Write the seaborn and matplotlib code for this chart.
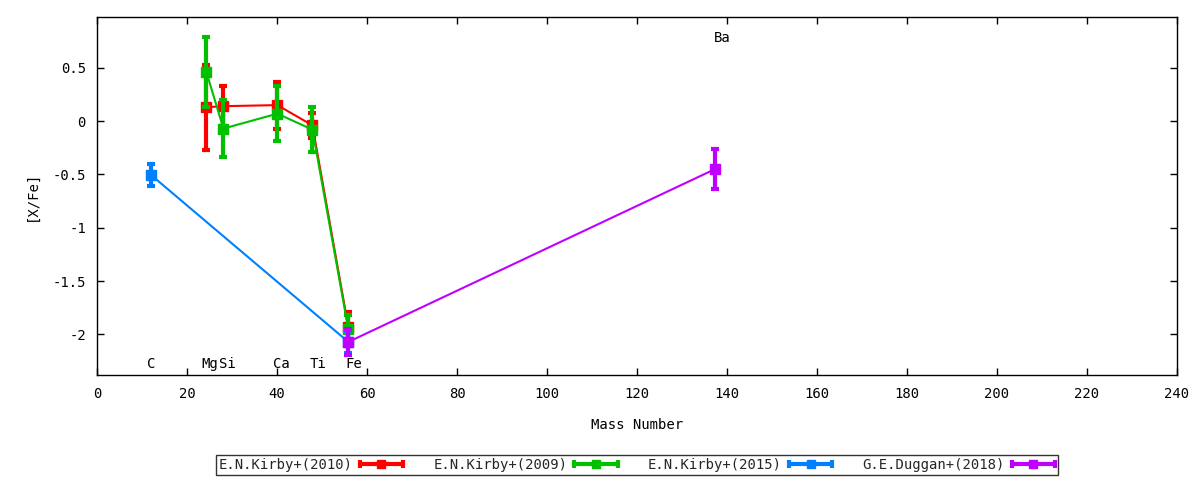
import numpy as np
import pandas as pd
import matplotlib
matplotlib.use("Agg")
import matplotlib.pyplot as plt
import seaborn as sns
from matplotlib.legend_handler import HandlerBase
from matplotlib.lines import Line2D

# ---- data ----
kirby2010_mass = [24.31, 28.09, 40.08, 47.87, 55.85]
kirby2010_val = [0.13, 0.14, 0.15, -0.04, -1.93]
kirby2010_err = [0.40, 0.19, 0.22, 0.12, 0.14]

kirby2009_mass = [24.31, 28.09, 40.08, 47.87, 55.85]
kirby2009_val = [0.46, -0.07, 0.07, -0.08, -1.95]
kirby2009_err = [0.33, 0.27, 0.26, 0.21, 0.13]

kirby2015_mass = [12.01, 55.85]
kirby2015_val = [-0.505, -2.07]
kirby2015_err = [0.10, 0.10]

duggan2018_mass = [55.85, 137.33]
duggan2018_val = [-2.07, -0.45]
duggan2018_err = [0.12, 0.19]

series_names = ["E.N.Kirby+(2010)", "E.N.Kirby+(2009)", "E.N.Kirby+(2015)", "G.E.Duggan+(2018)"]
series_colors = ["#ff0000", "#00c000", "#0080ff", "#c000ff"]

element_names = ["C", "Mg", "Si", "Ca", "Ti", "Fe", "Ba"]
element_x = [12, 25, 29, 41, 49, 57, 139]
element_y = [-2.28, -2.28, -2.28, -2.28, -2.28, -2.28, 0.78]

x_ticks = list(range(0, 241, 20))
y_ticks = [-2, -1.5, -1, -0.5, 0, 0.5]
y_tick_labels = ["-2", "-1.5", "-1", "-0.5", "0", "0.5"]

series = [
    (kirby2010_mass, kirby2010_val, kirby2010_err),
    (kirby2009_mass, kirby2009_val, kirby2009_err),
    (kirby2015_mass, kirby2015_val, kirby2015_err),
    (duggan2018_mass, duggan2018_val, duggan2018_err),
]

frames = []
for name, (m, v, e) in zip(series_names, series):
    frames.append(pd.DataFrame({"mass": m, "val": v, "err": e, "series": name}))
df = pd.concat(frames, ignore_index=True)

# ---- style ----
sns.set_theme(style="white")
plt.rcParams["font.family"] = ["DejaVu Sans Mono", "DejaVu Sans"]
FS = 10

fig = plt.figure(figsize=(12, 4.8), dpi=100)
ax = fig.add_axes([97 / 1200, 1 - 375 / 480, 1080 / 1200, 358 / 480])

palette = dict(zip(series_names, series_colors))
for i, name in enumerate(series_names):
    sub = df[df["series"] == name]
    sns.lineplot(data=sub, x="mass", y="val", color=palette[name], lw=1.5,
                 ax=ax, legend=False, sort=False, estimator=None, zorder=2 + i)
    ax.errorbar(sub["mass"], sub["val"], yerr=sub["err"], fmt="s",
                color=palette[name], ms=7, elinewidth=3, capsize=3, capthick=3,
                zorder=2.5 + i)

for t, x, y in zip(element_names, element_x, element_y):
    ax.text(x, y, t, ha="center", va="center", fontsize=FS, color="black")

ax.set_xlim(0, 240)
ax.set_ylim(-2.38, 0.976)
ax.set_xticks(x_ticks)
ax.set_xticklabels([str(t) for t in x_ticks])
ax.set_yticks(y_ticks)
ax.set_yticklabels(y_tick_labels)
ax.tick_params(axis="both", which="both", direction="in", length=5, width=1,
               top=True, right=True, bottom=True, left=True, labelsize=FS,
               colors="black")
ax.tick_params(axis="x", pad=9)
ax.tick_params(axis="y", pad=8)
for sp in ax.spines.values():
    sp.set_visible(True)
    sp.set_color("black")
    sp.set_linewidth(1)

ax.set_xlabel("Mass Number", fontsize=FS, color="black")
ax.set_ylabel("[X/Fe]", fontsize=FS, color="black")
ax.xaxis.set_label_coords(0.5, -0.14)
ax.xaxis.label.set_va("center")
ax.yaxis.set_label_coords(-0.0602, 0.5)
ax.yaxis.label.set_va("center")


class GnuHandler(HandlerBase):
    def create_artists(self, legend, orig_handle, xdescent, ydescent, width,
                       height, fontsize, trans):
        c = orig_handle.get_color()
        x0 = -xdescent
        x1 = width - xdescent
        yc = (height - ydescent) / 2
        line = Line2D([x0, x1], [yc, yc], color=c, lw=3, transform=trans)
        caps = Line2D([x0, x1], [yc, yc], color=c, lw=0, marker="|", ms=6,
                      mew=3, transform=trans)
        mark = Line2D([(x0 + x1) / 2], [yc], color=c, lw=0, marker="s", ms=6,
                      transform=trans)
        return [line, caps, mark]


handles = [Line2D([], [], color=c) for c in series_colors]
leg = ax.legend(handles, series_names, loc="center", bbox_to_anchor=(0.5, -0.251),
                ncol=4, markerfirst=False, frameon=True, fancybox=False,
                edgecolor="black", fontsize=FS, handlelength=3.1,
                columnspacing=2.2, handletextpad=0.5, borderpad=0.2,
                borderaxespad=0, handler_map={Line2D: GnuHandler()})
leg.get_frame().set_linewidth(1)

fig.savefig("out.png", dpi=100)
